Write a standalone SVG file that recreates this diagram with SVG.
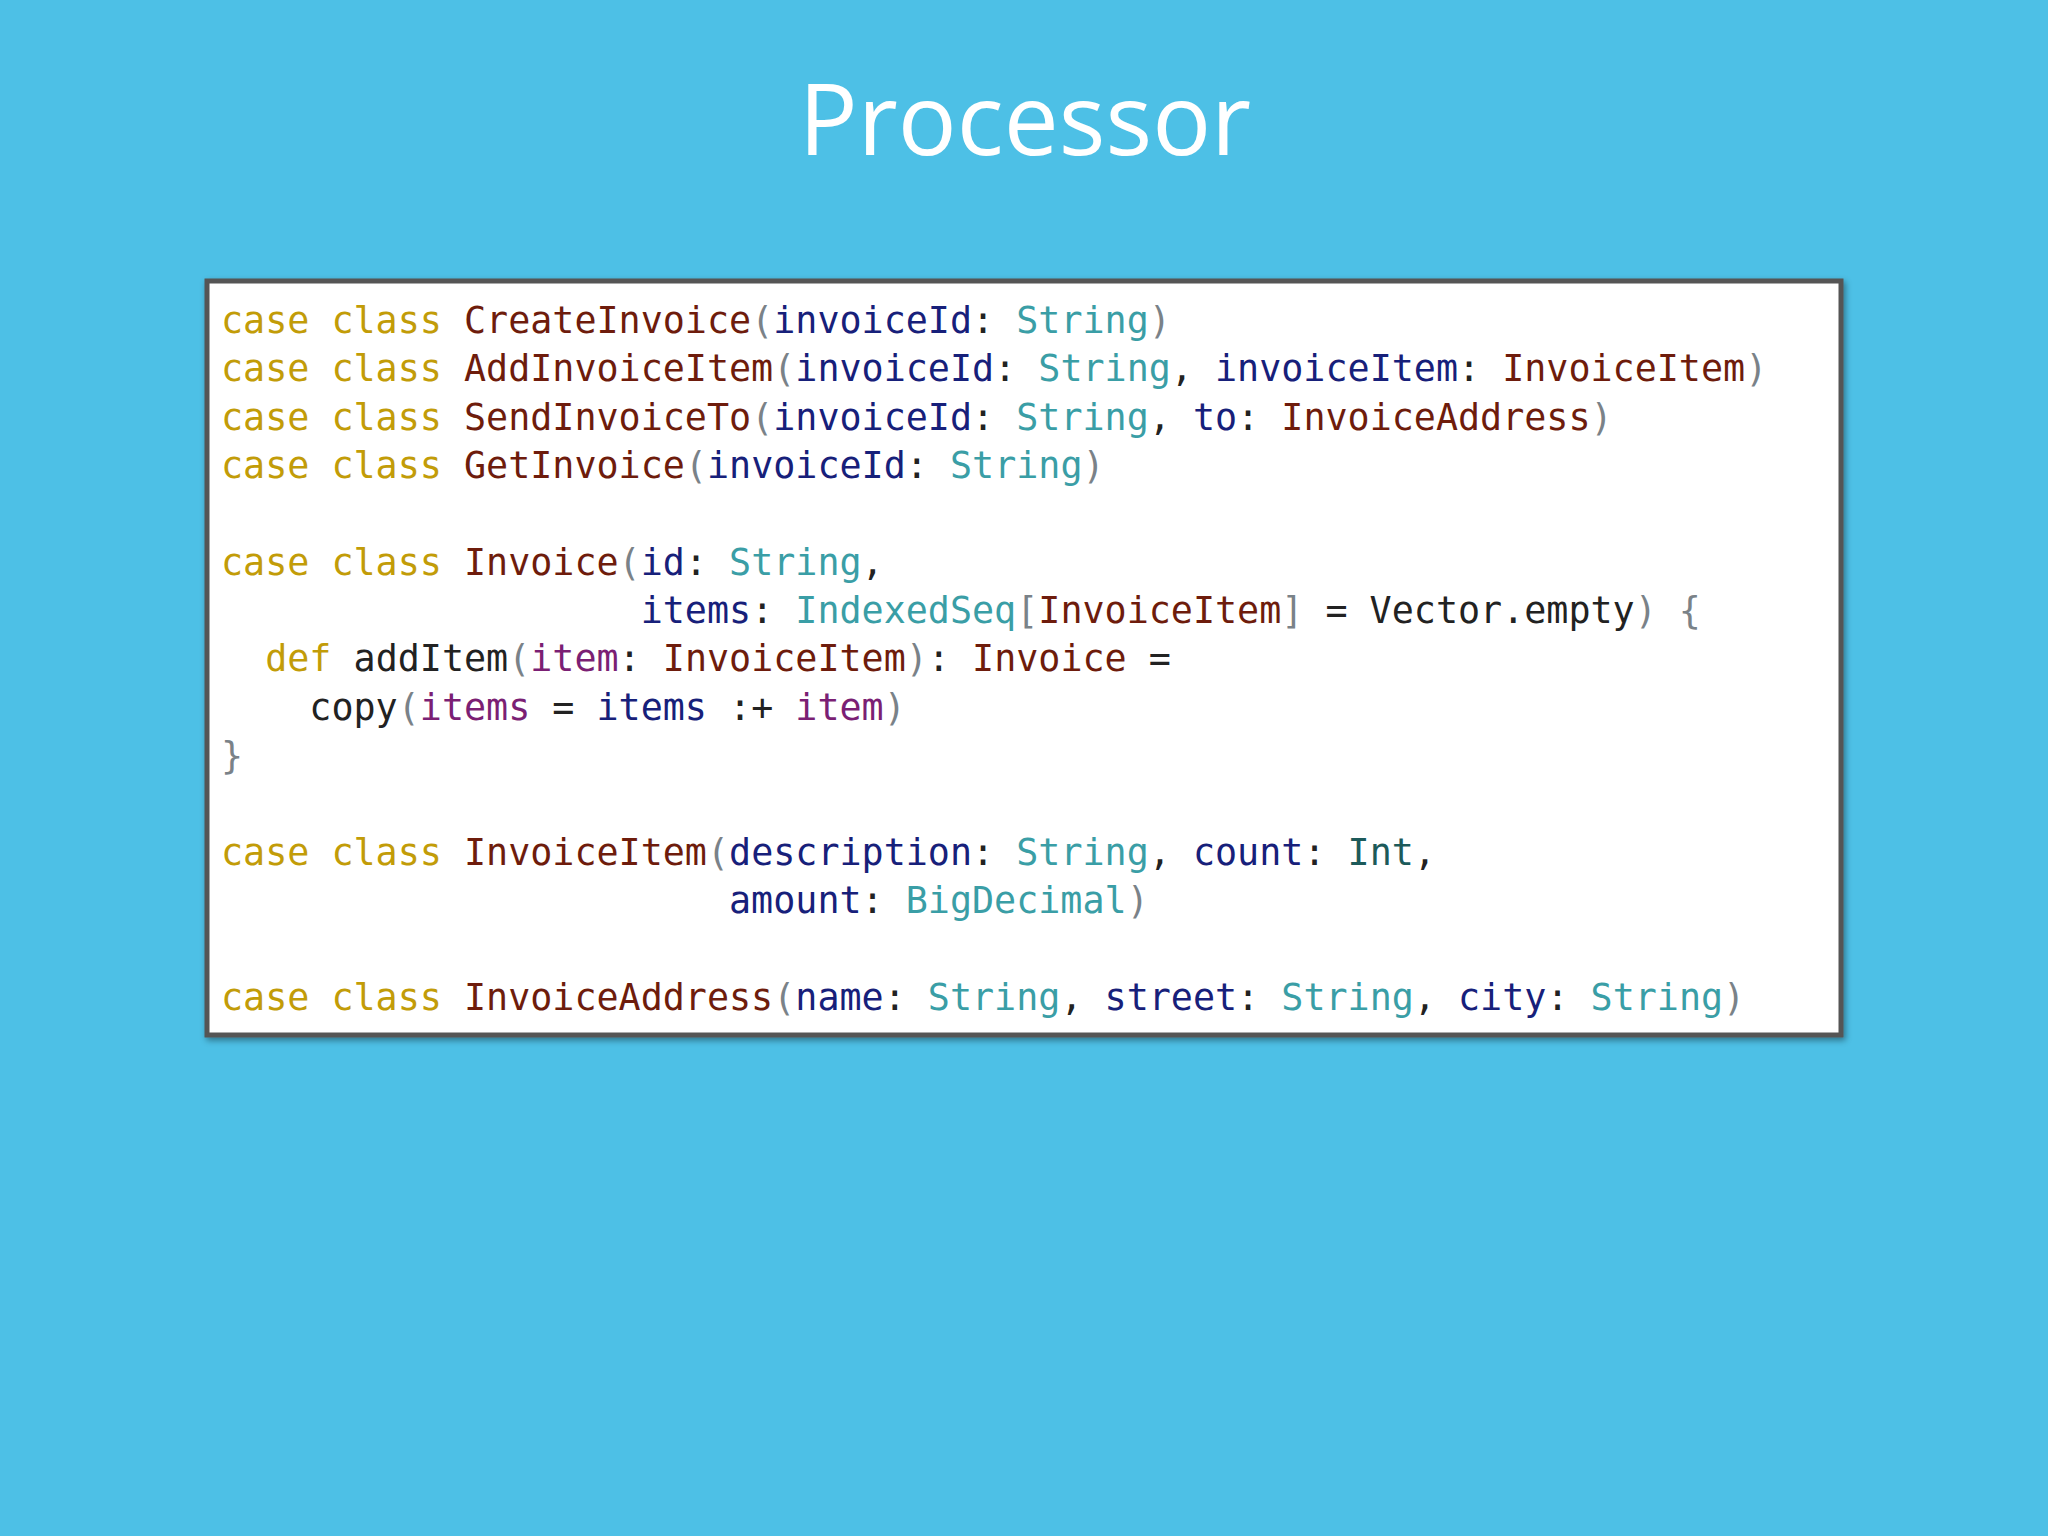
<svg xmlns="http://www.w3.org/2000/svg" width="2048" height="1536" viewBox="0 0 2048 1536">
<defs>
<style>
.code{font-family:"DejaVu Sans Mono","Liberation Mono",monospace;font-size:36.7px;fill:#222}
.k{fill:#c29c08}.c{fill:#6e1c0c}.p{fill:#17207a}.t{fill:#3a9ea6}.g{fill:#7a8288}.m{fill:#7b1f74}
</style>
<filter id="sh" x="-5%" y="-5%" width="110%" height="110%"><feDropShadow dx="2" dy="3" stdDeviation="3" flood-color="#000" flood-opacity="0.4"/></filter>
</defs>
<rect width="2048" height="1536" fill="#4dc0e6"/>
<text x="1025" y="155" text-anchor="middle" font-family="'Source Sans Pro','Open Sans','Noto Sans',sans-serif" font-size="98" fill="#ffffff">Processor</text>
<g id="codebox">
<rect x="207" y="281" width="1634" height="754" fill="#ffffff" stroke="#555555" stroke-width="5" filter="url(#sh)"/>
<text class="code" xml:space="preserve">
<tspan x="221" y="333"><tspan class="k">case class</tspan> <tspan class="c">CreateInvoice</tspan><tspan class="g">(</tspan><tspan class="p">invoiceId</tspan>: <tspan class="t">String</tspan><tspan class="g">)</tspan></tspan>
<tspan x="221" y="381"><tspan class="k">case class</tspan> <tspan class="c">AddInvoiceItem</tspan><tspan class="g">(</tspan><tspan class="p">invoiceId</tspan>: <tspan class="t">String</tspan>, <tspan class="p">invoiceItem</tspan>: <tspan class="c">InvoiceItem</tspan><tspan class="g">)</tspan></tspan>
<tspan x="221" y="430"><tspan class="k">case class</tspan> <tspan class="c">SendInvoiceTo</tspan><tspan class="g">(</tspan><tspan class="p">invoiceId</tspan>: <tspan class="t">String</tspan>, <tspan class="p">to</tspan>: <tspan class="c">InvoiceAddress</tspan><tspan class="g">)</tspan></tspan>
<tspan x="221" y="478"><tspan class="k">case class</tspan> <tspan class="c">GetInvoice</tspan><tspan class="g">(</tspan><tspan class="p">invoiceId</tspan>: <tspan class="t">String</tspan><tspan class="g">)</tspan></tspan>
<tspan x="221" y="575"><tspan class="k">case class</tspan> <tspan class="c">Invoice</tspan><tspan class="g">(</tspan><tspan class="p">id</tspan>: <tspan class="t">String</tspan>,</tspan>
<tspan x="221" y="623">                   <tspan class="p">items</tspan>: <tspan class="t">IndexedSeq</tspan><tspan class="g">[</tspan><tspan class="c">InvoiceItem</tspan><tspan class="g">]</tspan> = Vector.empty<tspan class="g">) {</tspan></tspan>
<tspan x="221" y="671">  <tspan class="k">def</tspan> addItem<tspan class="g">(</tspan><tspan class="m">item</tspan>: <tspan class="c">InvoiceItem</tspan><tspan class="g">)</tspan>: <tspan class="c">Invoice</tspan> =</tspan>
<tspan x="221" y="720">    copy<tspan class="g">(</tspan><tspan class="m">items</tspan> = <tspan class="p">items</tspan> :+ <tspan class="m">item</tspan><tspan class="g">)</tspan></tspan>
<tspan x="221" y="768"><tspan class="g">}</tspan></tspan>
<tspan x="221" y="865"><tspan class="k">case class</tspan> <tspan class="c">InvoiceItem</tspan><tspan class="g">(</tspan><tspan class="p">description</tspan>: <tspan class="t">String</tspan>, <tspan class="p">count</tspan>: <tspan class="c" style="fill:#1c5a5a">Int</tspan>,</tspan>
<tspan x="221" y="913">                       <tspan class="p">amount</tspan>: <tspan class="t">BigDecimal</tspan><tspan class="g">)</tspan></tspan>
<tspan x="221" y="1010"><tspan class="k">case class</tspan> <tspan class="c">InvoiceAddress</tspan><tspan class="g">(</tspan><tspan class="p">name</tspan>: <tspan class="t">String</tspan>, <tspan class="p">street</tspan>: <tspan class="t">String</tspan>, <tspan class="p">city</tspan>: <tspan class="t">String</tspan><tspan class="g">)</tspan></tspan>
</text>
</g>
<g id="connectors"/>
</svg>
